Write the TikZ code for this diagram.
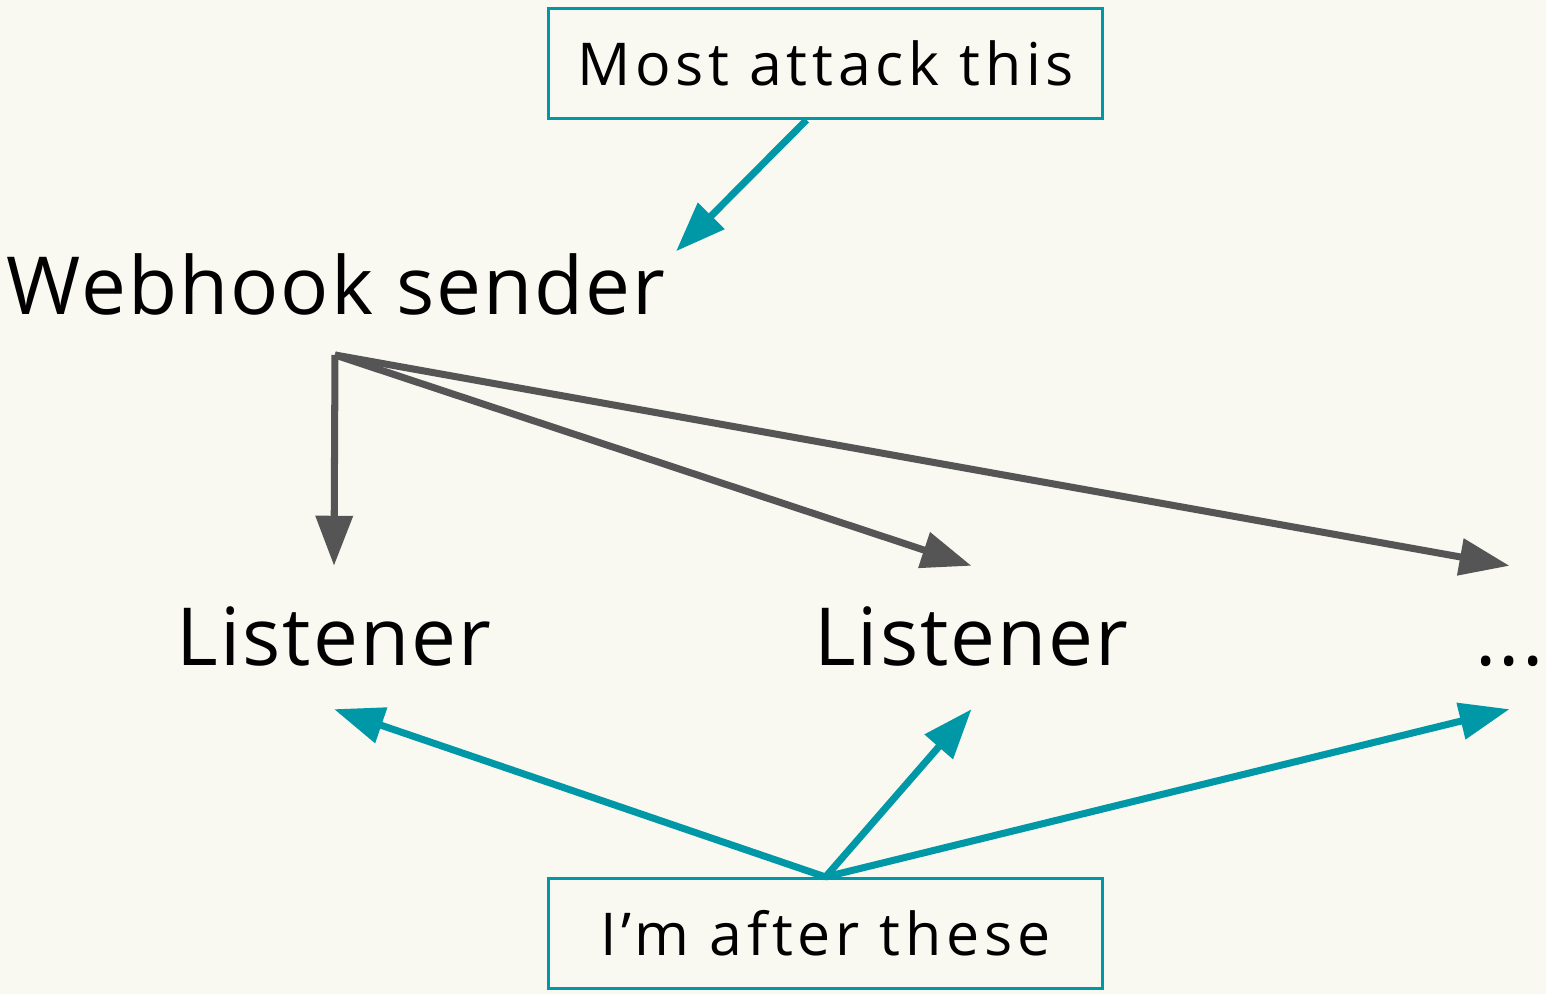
\documentclass[tikz,border=0pt]{standalone}
\usepackage{fontspec}
\setmainfont[LetterSpace=2.5]{Open Sans}
\newfontfamily\notefont[LetterSpace=8]{Open Sans}
\usetikzlibrary{arrows.meta}
\definecolor{paper}{HTML}{F9F9F1}
\definecolor{teal}{HTML}{0098A6}
\definecolor{slate}{HTML}{555555}

\begin{document}
\begin{tikzpicture}[
        note/.style={draw=teal,line width=0.85pt,minimum width=5.54cm,minimum height=1.10cm,inner sep=0pt,font=\notefont\fontsize{16.8}{20}\selectfont},
        big/.style={inner sep=0pt,text height=0.57cm,text depth=0pt,font=\fontsize{22.8}{27}\selectfont},
        item/.style={big,minimum height=1.42cm},
        feed/.style={slate,line width=2pt,-{Triangle[length=5mm,width=3.6mm]}},
        hint/.style={teal,line width=2pt,-{Triangle[length=5mm,width=3.6mm]}}
    ]
        \fill[paper] (0,0) rectangle (15.46,9.94);
        \useasboundingbox (0,0) rectangle (15.46,9.94);

        \node[note] (attack) at (8.255,9.305) {Most attack this};
        \node[note] (after) at (8.255,0.605) {I’m after these};

        \node[big,inner xsep=0.1cm,inner ysep=0.06cm] (sender) at (3.36,7.075) {Webhook sender};
        \coordinate (src) at (3.35,6.39);

        \node[item] (l1) at (3.34,3.565) {Listener};
        \node[item] (l2) at (9.715,3.565) {Listener};
        \node[item] (more) at (15.095,3.565) {...};

        \draw[hint] ([xshift=-1.9mm]attack.south) -- (sender.north east);

        \foreach \n in {l1,l2,more}
        {
            \draw[feed] (src) -- (\n.north);
            \draw[hint] (after.north) -- (\n.south);
        }
    \end{tikzpicture}
\end{document}
